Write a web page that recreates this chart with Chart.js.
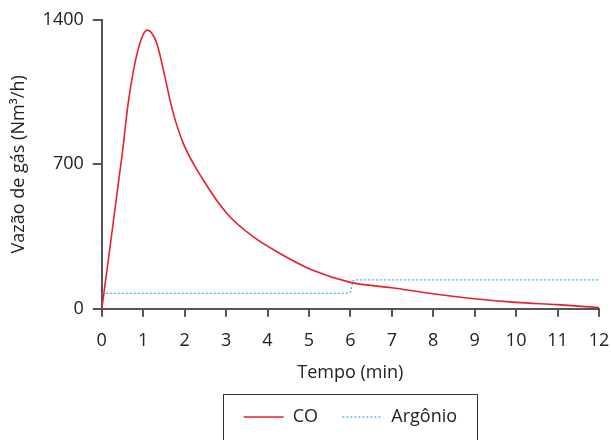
<!DOCTYPE html>
<html>
<head>
<meta charset="utf-8">
<script src="https://cdn.jsdelivr.net/npm/chart.js@4"></script>
<style>
  html, body { margin: 0; padding: 0; background: #fff; }
  #wrap { width: 611px; height: 440px; }
</style>
</head>
<body>
<div id="wrap"><canvas id="grafico"></canvas></div>
<script>
// tempo (min) e vazão (Nm3/h)
var coTempo  = [0, 0.5, 0.64, 0.88, 1.1, 1.32, 1.51, 1.7, 1.97, 2.45, 3.02, 3.66, 4.31, 5.11, 6, 7, 8, 9, 10, 11, 12];
var coVazao  = [0, 760, 1000, 1258, 1350, 1290, 1137, 966, 800, 624, 462, 348, 267, 185, 128, 102, 73, 49, 31, 20, 6];
var arTempo  = [0, 5.9, 6.0, 6.06, 6.15, 12];
var arVazao  = [75, 75, 80, 136, 140, 140];
var xTicks   = [0, 1, 2, 3, 4, 5, 6, 7, 8, 9, 10, 11, 12];
var yTicks   = [0, 700, 1400];

function pares(xs, ys) {
    return xs.map(function (x, i) { return { x: x, y: ys[i] }; });
}

var fonte = "'Open Sans', sans-serif";
var cinza = '#555555';
var texto = '#222222';

// moldura em volta da legenda
var molduraLegenda = {
    id: 'molduraLegenda',
    afterDraw: function (chart) {
        var lg = chart.legend;
        var hb = lg.legendHitBoxes[0];
        var meio = hb.top + hb.height / 2;
        var ctx = chart.ctx;
        ctx.save();
        ctx.strokeStyle = '#333';
        ctx.lineWidth = 1;
        ctx.setLineDash([]);
        var w = 254;
        var x0 = Math.round(lg.left + (lg.width - w) / 2) + 0.5;
        ctx.strokeRect(x0, Math.round(meio - 23) + 0.5, w, 60);
        ctx.restore();
    }
};

new Chart('grafico', {
    type: 'line',
    data: {
        datasets: [{
            label: 'CO',
            data: pares(coTempo, coVazao),
            borderColor: '#e8202a',
            backgroundColor: '#e8202a',
            borderWidth: 1.6,
            pointRadius: 0,
            cubicInterpolationMode: 'monotone'
        }, {
            label: 'Argônio',
            data: pares(arTempo, arVazao),
            borderColor: '#3db4e4',
            backgroundColor: '#3db4e4',
            borderWidth: 1.2,
            borderDash: [2, 2],
            pointRadius: 0,
            tension: 0
        }]
    },
    options: {
        responsive: true,
        maintainAspectRatio: false,
        animation: false,
        layout: {
            padding: { top: 15, right: 0, left: 8, bottom: 4 }
        },
        scales: {
            x: {
                type: 'linear',
                min: 0,
                max: 12,
                afterBuildTicks: function (axis) {
                    axis.ticks = xTicks.map(function (v) { return { value: v }; });
                },
                afterFit: function (axis) {
                    // só metade do rótulo "12" à direita
                    axis.paddingRight = 12;
                },
                border: { display: true, color: cinza, width: 2 },
                grid: { display: true, drawOnChartArea: false, drawTicks: true, tickLength: 8, color: cinza, lineWidth: 2 },
                ticks: { color: texto, font: { family: fonte, size: 18 }, padding: 13, maxRotation: 0 },
                title: { display: true, text: 'Tempo (min)', color: texto, font: { family: fonte, size: 18 }, padding: { top: -2, bottom: 9 } }
            },
            y: {
                min: 0,
                max: 1400,
                afterBuildTicks: function (axis) {
                    axis.ticks = yTicks.map(function (v) { return { value: v }; });
                },
                border: { display: true, color: cinza, width: 2 },
                grid: { display: true, drawOnChartArea: false, drawTicks: true, tickLength: 9, color: cinza, lineWidth: 2 },
                ticks: {
                    color: texto, font: { family: fonte, size: 18 }, padding: 9,
                    callback: function (v) { return String(v); }
                },
                title: { display: true, text: 'Vazão de gás (Nm³/h)', color: texto, font: { family: fonte, size: 18 }, padding: { top: 0, bottom: 4 } }
            }
        },
        plugins: {
            legend: {
                position: 'bottom',
                fullSize: false,
                labels: {
                    usePointStyle: true,
                    pointStyle: 'line',
                    pointStyleWidth: 40,
                    boxHeight: 2,
                    color: texto,
                    font: { family: fonte, size: 18 },
                    padding: 15,
                    generateLabels: function (chart) {
                        return chart.data.datasets.map(function (ds, i) {
                            return {
                                text: i === 0 ? ds.label + '  ' : ds.label,
                                strokeStyle: ds.borderColor,
                                fillStyle: ds.borderColor,
                                lineWidth: i === 0 ? 1.6 : 1.3,
                                lineDash: ds.borderDash || [],
                                pointStyle: 'line',
                                fontColor: texto,
                                datasetIndex: i,
                                hidden: false
                            };
                        });
                    }
                }
            },
            tooltip: { enabled: false }
        }
    },
    plugins: [molduraLegenda]
});
</script>
</body>
</html>
